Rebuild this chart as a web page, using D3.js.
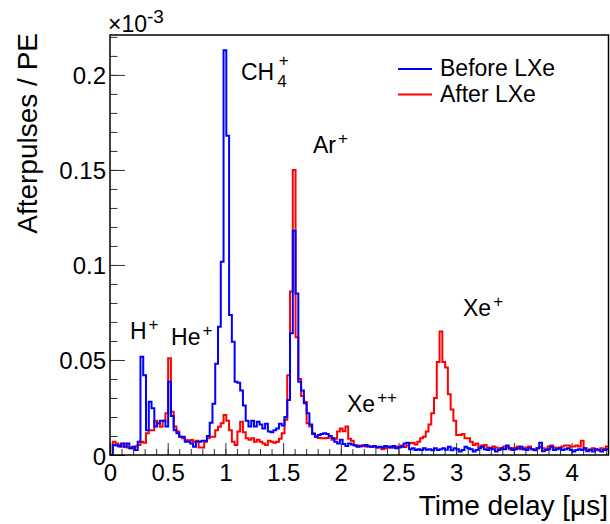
<!DOCTYPE html>
<html>
<head>
<meta charset="utf-8">
<script src="https://cdn.jsdelivr.net/npm/d3@7"></script>
<style>
  body { margin: 0; background: #fff; }
  svg { display: block; font-family: "Liberation Sans", Arial, Helvetica, sans-serif; }
</style>
</head>
<body>
<div id="chart"></div>
<script>
// histogram bins: 0.024 us wide, starting at 0 (values in units of 1e-3 afterpulses / PE)
var binWidth = 0.024;

var beforeLXe = [
  0, .0053, .005, .0045, .006, .0044, .006, .0036, .0044, .0026,
  .007, .0517, .042, .013, .028, .0246, .015, .0167, .018, .018,
  .015, .0386, .0205, .013, .0114, .0096, .0096, .007, .007, .0061,
  .0044, .007, .007, .0075, .0075, .01, .017, .027, .048, .0675,
  .1017, .213, .168, .0737, .0596, .0386, .038, .034, .026, .018,
  .015, .018, .015, .0175, .016, .014, .0165, .0123, .012, .013,
  .014, .0165, .0155, .02, .029, .064, .118, .085, .0386, .034,
  .0272, .022, .016, .011, .0096, .0105, .011, .0115, .011, .01,
  .009, .007, .006, .008, .0058, .0047, .006, .0055, .005, .0044,
  .0047, .005, .0053, .0045, .0044, .0047, .004, .0044, .004, .0047,
  .0044, .004, .0047, .0035, .004, .0044, .006, .0065, .003, .0035,
  .0026, .003, .0026, .0035, .0028, .003, .0025, .0035, .0026, .003,
  .0035, .0028, .0044, .0025, .0035, .003, .0018, .0026, .0044, .0035,
  .003, .0018, .0026, .0035, .0044, .003, .0026, .0035, .003, .0018,
  .0026, .0035, .003, .005, .0035, .0026, .003, .0035, .0044, .003,
  .0026, .0035, .003, .0026, .0035, .0065, .002, .0026, .003, .0044,
  .0026, .003, .0035, .0026, .003, .0035, .0026, .0018, .0026, .003,
  .0026, .0035, .002, .0026, .0018, .003, .0026, .0018, .0026, .003
];

var afterLXe = [
  0, .007, .006, .0053, .0045, .006, .004, .0035, .0035, .0045,
  .0053, .007, .0065, .0114, .013, .013, .018, .017, .0149, .018,
  .022, .0509, .0228, .015, .0123, .0096, .0088, .0079, .0075, .0079,
  .007, .0075, .004, .004, .007, .0088, .0096, .0096, .013, .0149,
  .0167, .021, .018, .013, .007, .0053, .0123, .0175, .012, .0088,
  .008, .0088, .007, .008, .007, .006, .0053, .0075, .007, .0065,
  .007, .0085, .0114, .0185, .042, .086, .15, .062, .04, .031,
  .028, .0167, .015, .0115, .0096, .009, .0088, .0088, .009, .01,
  .008, .0085, .0123, .014, .0125, .015, .0085, .0075, .0053, .005,
  .0045, .005, .0045, .0048, .0042, .0045, .004, .0042, .003, .0035,
  .004, .0045, .004, .0042, .0045, .005, .0042, .005, .0062, .0065,
  .0055, .007, .0088, .0096, .0123, .016, .022, .03, .049, .065,
  .049, .046, .032, .024, .018, .0105, .0105, .011, .0088, .0088,
  .007, .0053, .006, .0045, .005, .0053, .004, .0035, .0045, .004,
  .003, .0035, .0045, .004, .003, .0035, .004, .0045, .003, .0035,
  .004, .0045, .003, .0025, .0035, .0042, .0035, .003, .0045, .005,
  .004, .0035, .004, .0045, .005, .005, .0045, .0045, .005, .0045,
  .0075, .0035, .0025, .003, .0035, .003, .0025, .0035, .003, .0045
];

var seriesNames = ["Before LXe", "After LXe"];
var xTicks = [0, 0.5, 1, 1.5, 2, 2.5, 3, 3.5, 4];
var yTicks = [0, 0.05, 0.1, 0.15, 0.2];
var ionNames = ["H", "He", "CH", "Ar", "Xe", "Xe"];
var ionCharges = ["+", "+", "+", "+", "++", "+"];

(function() {
  var outerWidth = 610,
      outerHeight = 524,
      margin = { top: 35, right: 1.5, bottom: 69, left: 110 },
      width = outerWidth - margin.left - margin.right,
      height = outerHeight - margin.top - margin.bottom;

  var svg = d3.select("#chart").append("svg")
      .attr("width", outerWidth)
      .attr("height", outerHeight);

  var g = svg.append("g")
      .attr("transform", "translate(" + margin.left + "," + margin.top + ")");

  var x = d3.scaleLinear()
      .domain([0, 4.32])
      .range([0, width]);

  var y = d3.scaleLinear()
      .domain([0, 0.221])
      .range([height, 0]);

  g.append("clipPath")
      .attr("id", "frame-clip")
    .append("rect")
      .attr("width", width)
      .attr("height", height);

  // minor ticks (ROOT style, inside the frame)
  g.append("g")
      .attr("class", "x minor axis")
      .attr("transform", "translate(0," + height + ")")
      .call(d3.axisBottom(x).tickValues(d3.range(0, 4.35, 0.1)).tickSize(-6).tickFormat(""));

  g.append("g")
      .attr("class", "y minor axis")
      .call(d3.axisLeft(y).tickValues(d3.range(0, 0.2205, 0.01)).tickSize(-7.5).tickFormat(""));

  var xAxis = g.append("g")
      .attr("class", "x axis")
      .attr("transform", "translate(0," + height + ")")
      .call(d3.axisBottom(x).tickValues(xTicks).tickSize(-12).tickFormat(d => d));

  xAxis.selectAll("text")
      .attr("y", 26)
      .attr("dy", null)
      .attr("font-size", 24);

  var yAxis = g.append("g")
      .attr("class", "y axis")
      .call(d3.axisLeft(y).tickValues(yTicks).tickSize(-15).tickFormat(d => d));

  yAxis.selectAll("text")
      .attr("x", -4)
      .attr("dy", 9)
      .attr("font-size", 24);

  g.selectAll(".axis path").remove();
  g.selectAll(".axis line").attr("stroke", "#333");
  g.selectAll(".axis text").attr("fill", "#000").attr("font-family", null);

  var line = d3.line()
      .curve(d3.curveStepAfter)
      .x(d => x(d[0]))
      .y(d => y(d[1]));

  function steps(values) {
    var pts = values.map((v, i) => [i * binWidth, v]);
    pts.push([values.length * binWidth, values[values.length - 1]]);
    return pts;
  }

  var series = [
    { name: seriesNames[1], values: afterLXe, color: "#ff0000" },
    { name: seriesNames[0], values: beforeLXe, color: "#0000ff" }
  ];

  g.append("g")
      .attr("clip-path", "url(#frame-clip)")
    .selectAll("path")
    .data(series)
    .join("path")
      .attr("fill", "none")
      .attr("stroke", d => d.color)
      .attr("stroke-width", 2)
      .attr("d", d => line(steps(d.values)));

  // frame
  g.append("rect")
      .attr("width", width)
      .attr("height", height)
      .attr("fill", "none")
      .attr("stroke", "#000")
      .attr("stroke-width", 1.5);

  // exponent
  var expo = svg.append("text")
      .attr("x", 108)
      .attr("y", 32)
      .attr("font-size", 23)
      .text("\u00d710");
  expo.append("tspan")
      .attr("font-size", 19)
      .attr("dy", -9)
      .text("-3");

  // axis titles
  svg.append("text")
      .attr("x", 608)
      .attr("y", 515)
      .attr("text-anchor", "end")
      .attr("font-size", 28)
      .text("Time delay [\u03bcs]");

  svg.append("text")
      .attr("transform", "translate(37,33) rotate(-90)")
      .attr("text-anchor", "end")
      .attr("font-size", 28)
      .text("Afterpulses / PE");

  // ion labels
  var ionPos = [[0.173, 0.0611], [0.529, 0.0579], [1.135, 0.1974], [1.759, 0.159], [2.054, 0.0226], [3.059, 0.0732]];
  ionNames.forEach(function(name, i) {
    var t = g.append("text")
        .attr("x", x(ionPos[i][0]))
        .attr("y", y(ionPos[i][1]))
        .attr("font-size", 23)
        .text(name);
    if (name == "CH") {
      t.append("tspan").attr("font-size", 17).attr("dx", 3).attr("dy", 7).text("4");
      t.append("tspan").attr("font-size", 17).attr("dx", -8).attr("dy", -21).text(ionCharges[i]);
    } else {
      t.append("tspan").attr("font-size", 17).attr("dx", 2).attr("dy", -9).text(ionCharges[i]);
    }
  });

  // legend
  var legend = svg.append("g")
      .selectAll("g")
      .data([series[1], series[0]])
      .join("g")
        .attr("transform", (d, i) => "translate(398," + (69 + i * 25.5) + ")");

  legend.append("line")
      .attr("x2", 34)
      .attr("stroke", d => d.color)
      .attr("stroke-width", 2);

  legend.append("text")
      .attr("x", 42)
      .attr("y", 7)
      .attr("font-size", 23)
      .text(d => d.name);
})();
</script>
</body>
</html>
